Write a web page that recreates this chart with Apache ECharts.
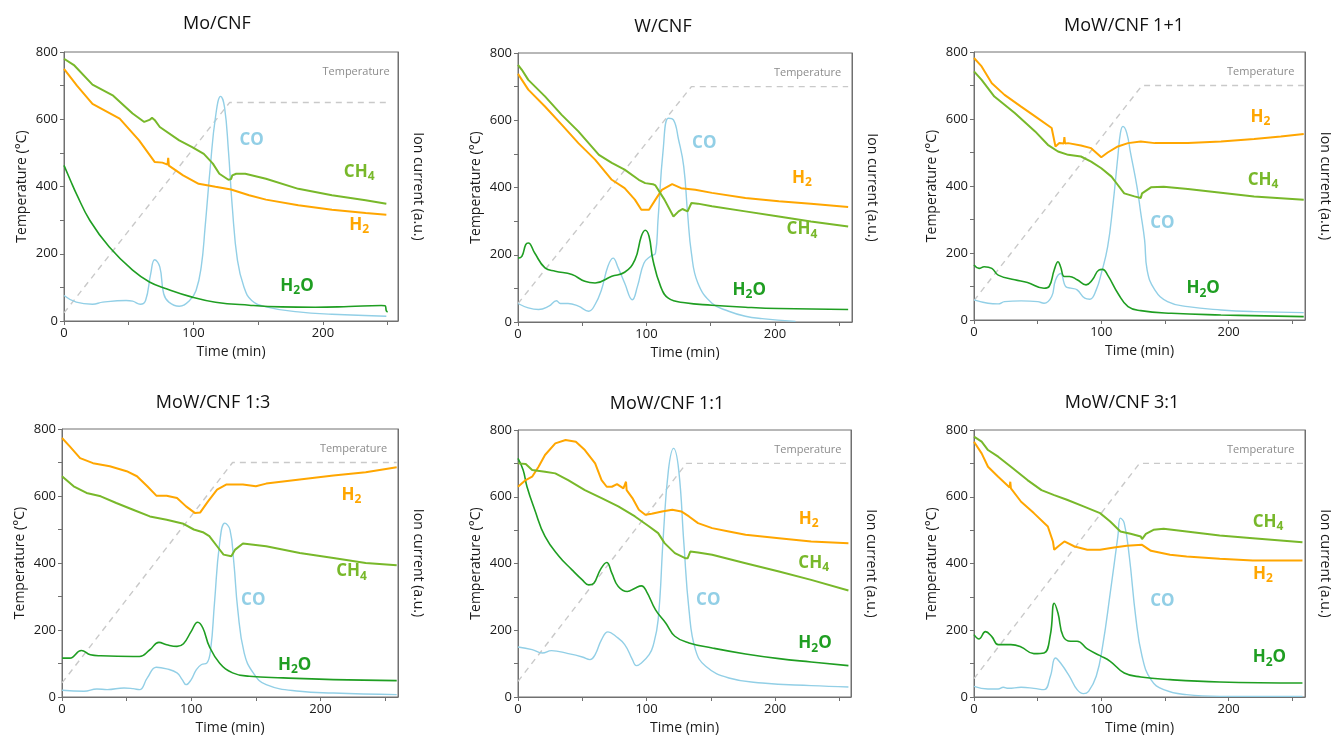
<!DOCTYPE html>
<html><head><meta charset="utf-8">
<script src="https://cdn.jsdelivr.net/npm/echarts@6/dist/echarts.min.js"></script>
<style>html,body{margin:0;padding:0;background:#fff}#c{width:1333px;height:740px}</style>
</head><body><div id="c"></div>
<script>
// ---------------- DATA (time in min, values on the 0-800 scale) ----------------
const titles = ["Mo/CNF", "W/CNF", "MoW/CNF 1+1", "MoW/CNF 1:3", "MoW/CNF 1:1", "MoW/CNF 3:1"];
const yTickLabels = [0, 200, 400, 600, 800];
const xTickLabels = [0, 100, 200];

// Mo/CNF
const moTemp = [[0,24],[128,650],[250,650]];
const moCH4 = [[0,780],[8,760],[22,703],[38,670],[53,617],[62,592],[66,598],[68,604],[70,598],[74,577],[89,537],[99,517],[108,497],[115,468],[120,438],[127,420],[129,422],[130,433],[133,438],[140,438],[156,423],[181,393],[207,374],[233,359],[249,349]];
const moH2 = [[0,750],[10,700],[22,646],[43,602],[58,537],[70,473],[76,471],[80,465],[80.5,485],[81,462],[92,433],[104,408],[117,399],[129,391],[143,374],[156,361],[181,344],[207,331],[233,321],[249,316]];
const moH2O = [[0,463],[5,418],[9.5,379],[20,299],[35,220],[53,151],[66,116],[79,96],[99,71],[117,56],[143,47],[168,42],[194,41],[220,43],[245,46],[248,45],[249,30],[250,27]];
const moCO = [[0,76],[9.5,56],[22,50],[30,56],[48,61],[53,59],[59,50],[63,61],[67,141],[70,182],[74,161],[77,81],[81,56],[89,44],[97,61],[102,91],[106,161],[109,279],[113,458],[117,606],[121,668],[124,636],[127,507],[130,339],[134,180],[139,101],[145,61],[156,42],[181,27],[207,20],[249,14]];

// W/CNF
const wTemp = [[0,55],[135,700],[257,700]];
const wCH4 = [[0,765],[3,750],[8,720],[21,671],[34,616],[47,567],[63,497],[73,473],[83,453],[94,423],[99,413],[105,410],[107,406],[114,364],[121,314],[125,329],[128,336],[132,329],[135,354],[140,352],[151,344],[177,329],[203,314],[228,299],[257,284]];
const wH2 = [[0,738],[8,691],[21,641],[34,587],[47,532],[60,483],[73,423],[83,398],[91,364],[96,334],[102,334],[107,364],[112,393],[120,410],[127,398],[138,393],[151,384],[177,369],[203,359],[228,352],[257,342]];
const wH2O = [[0,190],[3,195],[6,230],[8,235],[13,205],[21,161],[29,151],[42,141],[52,121],[60,116],[73,136],[83,148],[91,185],[96,255],[99,273],[102,255],[105,185],[111,106],[117,71],[130,57],[151,50],[177,44],[203,40],[257,37]];
const wCO = [[0,55],[8,42],[16,37],[24,47],[30,63],[33,55],[39,55],[47,47],[55,32],[60,52],[65,96],[70,166],[74,190],[78,161],[83,116],[89,66],[93,106],[98,175],[103,195],[107,205],[109,304],[113,512],[117,606],[121,601],[125,542],[129,463],[132,324],[135,205],[140,116],[151,56],[164,32],[177,17],[190,10],[216,2]];

// MoW/CNF 1+1
const mwPlusTemp = [[0,58],[132,700],[259,700]];
const mwPlusCH4 = [[0,742],[6,717],[16,667],[32,618],[48,563],[58,523],[66,503],[74,493],[84,488],[92,473],[100,453],[108,428],[113,403],[118,378],[126,369],[131,364],[132,378],[139,396],[149,398],[168,391],[194,380],[220,369],[259,359]];
const mwPlusH2 = [[0,782],[6,757],[14,707],[24,672],[37,637],[48,608],[61,573],[64,518],[67,528],[70.5,527],[71,546],[71.5,527],[74,528],[84,521],[92,513],[100,486],[105,500],[113,518],[121,528],[131,533],[142,528],[168,528],[194,533],[220,540],[241,548],[259,555]];
const mwPlusH2O = [[0,164],[4,154],[8,159],[14,154],[19,134],[32,120],[42,112],[55,95],[59,100],[63,149],[66,174],[68,159],[71,130],[75,130],[81,120],[88,105],[93,120],[98,149],[101,151],[105,134],[113,80],[121,40],[131,28],[155,20],[194,15],[259,10]];
const mwPlusCO = [[0,60],[11,50],[19,48],[24,55],[37,57],[50,55],[55,50],[61,70],[64,119],[68,139],[72,100],[76,95],[81,90],[87,65],[91,62],[96,90],[100,139],[105,219],[109,339],[113,488],[115,558],[117,578],[120,558],[123,498],[128,398],[131,319],[134,239],[136,149],[142,90],[152,55],[168,40],[194,30],[220,25],[259,22]];

// MoW/CNF 1:3
const mw13Temp = [[0,42],[132,700],[259,700]];
const mw13H2 = [[0,773],[6,748],[14,713],[24,698],[37,689],[50,674],[58,659],[66,629],[73,601],[81,601],[89,594],[96,569],[103,549],[107,551],[113,584],[120,619],[127,634],[140,634],[150,629],[158,637],[184,649],[210,661],[235,671],[259,686]];
const mw13CH4 = [[0,659],[9,629],[19,609],[30,599],[42,579],[55,559],[68,539],[81,529],[94,517],[102,500],[109,492],[114,480],[120,450],[125,425],[131,420],[134,440],[140,458],[158,450],[184,430],[210,415],[235,400],[259,393]];
const mw13H2O = [[0,116],[6,116],[15,139],[22,126],[30,123],[55,121],[60,121],[68,141],[75,163],[81,156],[89,151],[94,159],[100,196],[105,223],[109,206],[114,151],[122,101],[132,72],[145,62],[171,57],[210,52],[259,49]];
const mw13CO = [[0,20],[17,17],[27,24],[35,22],[48,27],[55,25],[60,22],[66,57],[73,89],[81,84],[89,72],[93,52],[96,37],[100,52],[104,82],[108,97],[112,101],[115,141],[118,281],[122,460],[126,519],[130,499],[133,400],[136,261],[141,131],[148,72],[158,37],[184,17],[210,12],[259,7]];

// MoW/CNF 1:1
const mw11Temp = [[0,47],[131,700],[257,700]];
const mw11H2 = [[0,630],[6,650],[11,660],[16,690],[21,725],[29,760],[37,770],[45,765],[52,740],[60,700],[65,650],[69,630],[73,630],[77,638],[82,625],[83.5,622],[84,645],[84.5,620],[89,596],[94,561],[99,546],[104,549],[112,556],[120,561],[127,556],[133,541],[140,521],[151,506],[164,496],[177,486],[203,476],[228,466],[257,461]];
const mw11CH4 = [[0,700],[6,698],[11,680],[21,675],[29,670],[39,650],[52,620],[65,596],[78,571],[91,541],[102,511],[109,491],[114,461],[122,431],[130,416],[132,416],[134,436],[140,433],[151,426],[177,401],[203,376],[228,351],[257,319]];
const mw11H2O = [[0,715],[4,680],[7,630],[13,561],[21,481],[32,421],[42,381],[50,351],[55,336],[59,341],[64,381],[69,403],[73,371],[78,331],[85,316],[91,326],[96,333],[100,316],[107,261],[115,221],[122,182],[133,162],[151,147],[177,129],[203,115],[228,105],[257,94]];
const mw11CO = [[0,150],[11,142],[19,132],[26,139],[39,130],[50,120],[56,112],[60,127],[65,172],[70,195],[76,182],[83,157],[89,112],[92,94],[96,102],[102,127],[105,152],[109,231],[113,481],[117,680],[121,745],[125,680],[129,461],[133,261],[138,142],[146,92],[164,57],[190,42],[228,34],[257,30]];

// MoW/CNF 3:1
const mw31Temp = [[0,55],[130,700],[259,700]];
const mw31CH4 = [[0,780],[6,765],[11,740],[19,720],[29,690],[42,650],[53,620],[63,605],[73,591],[86,571],[99,551],[107,526],[115,496],[123,489],[131,481],[132,473],[135,489],[141,501],[149,504],[167,496],[193,484],[219,476],[258,464]];
const mw31H2 = [[0,765],[6,730],[11,690],[19,660],[28,628],[28.5,645],[29,625],[37,585],[47,551],[58,511],[62,466],[63,441],[66,451],[71,466],[79,451],[89,441],[99,441],[110,448],[120,453],[132,456],[139,438],[154,426],[167,421],[193,414],[219,409],[258,409]];
const mw31H2O = [[0,187],[4,174],[9,196],[14,181],[19,157],[29,157],[37,150],[47,130],[55,132],[60,187],[63,281],[66,251],[70,182],[76,167],[81,167],[89,144],[99,124],[107,107],[118,72],[131,60],[154,52],[193,45],[258,42]];
const mw31CO = [[0,32],[11,24],[19,24],[23,29],[27,26],[37,29],[47,26],[55,22],[60,62],[64,117],[68,102],[75,62],[81,22],[86,10],[90,17],[96,62],[101,152],[107,311],[113,481],[115,536],[118,521],[122,421],[127,241],[132,122],[139,52],[149,22],[167,7],[193,2],[258,2]];

// ---------------- LAYOUT / STYLE ----------------
const FONT = "'Open Sans', 'DejaVu Sans', sans-serif";
const COLORS = { CH4: '#78b82a', H2: '#ffa600', H2O: '#1f9e22', CO: '#92cfe6', Temp: '#c9c9c9' };
const grids = [
  {left: 64, top: 52, width: 334, height: 269, xMax: 258},
  {left: 518, top: 53, width: 334, height: 269, xMax: 260},
  {left: 974, top: 52, width: 332, height: 268, xMax: 260},
  {left: 62, top: 429, width: 336, height: 268, xMax: 260},
  {left: 518, top: 430, width: 333, height: 267, xMax: 259},
  {left: 974, top: 430, width: 333, height: 267, xMax: 260}
];
const titlePos = [[217,24],[663,27],[1124,26],[213,403],[667,404],[1122,403]];
const labelPos = [
  {CO:[145,538], CH4:[228,443], H2:[228,286], H2O:[180,104]},
  {CO:[145,533], H2:[221,429], CH4:[221,275], H2O:[180,96]},
  {H2:[225,606], CH4:[227,418], CO:[148,290], H2O:[180,95]},
  {H2:[224,604], CH4:[224,375], CO:[148,290], H2O:[180,96]},
  {H2:[226,534], CH4:[230,402], CO:[148,289], H2O:[231,160]},
  {CH4:[231,525], H2:[227,369], CO:[148,286], H2O:[232,118]}
];
const tempLabelPos = [252, 740];

const panelData = [
  {Temp: moTemp, CH4: moCH4, H2: moH2, H2O: moH2O, CO: moCO},
  {Temp: wTemp, CH4: wCH4, H2: wH2, H2O: wH2O, CO: wCO},
  {Temp: mwPlusTemp, CH4: mwPlusCH4, H2: mwPlusH2, H2O: mwPlusH2O, CO: mwPlusCO},
  {Temp: mw13Temp, CH4: mw13CH4, H2: mw13H2, H2O: mw13H2O, CO: mw13CO},
  {Temp: mw11Temp, CH4: mw11CH4, H2: mw11H2, H2O: mw11H2O, CO: mw11CO},
  {Temp: mw31Temp, CH4: mw31CH4, H2: mw31H2, H2O: mw31H2O, CO: mw31CO}
];

const labelText = { CH4: '{m|CH}{s|4}', H2: '{m|H}{s|2}', H2O: '{m|H}{s|2}{m|O}', CO: '{m|CO}' };

function gasLabel(key, coord) {
  const c = COLORS[key];
  return {
    symbol: 'circle', symbolSize: 1, itemStyle: {color: 'rgba(0,0,0,0)'},
    data: [{coord: coord}],
    label: {
      show: true, position: 'inside', formatter: labelText[key],
      rich: {
        m: {fontSize: 17, fontWeight: 'bold', color: c, fontFamily: FONT, lineHeight: 22},
        s: {fontSize: 12, fontWeight: 'bold', color: c, fontFamily: FONT, lineHeight: 12, verticalAlign: 'bottom'}
      }
    }
  };
}

const option = { animation: false, grid: [], xAxis: [], yAxis: [], series: [], graphic: [] };
const axisColor = '#707070';

grids.forEach((g, i) => {
  option.grid.push({left: g.left, top: g.top, width: g.width, height: g.height, show: true,
    borderColor: axisColor, borderWidth: 1, backgroundColor: 'transparent', containLabel: false});
  option.xAxis.push({
    type: 'value', gridIndex: i, min: 0, max: g.xMax, interval: 50,
    name: 'Time (min)', nameLocation: 'middle', nameGap: 24,
    nameTextStyle: {fontSize: 14, color: '#1a1a1a', fontFamily: FONT},
    axisLine: {show: true, lineStyle: {color: axisColor}},
    axisTick: {show: true, length: 4, lineStyle: {color: axisColor}},
    splitLine: {show: false},
    axisLabel: {fontSize: 13, color: '#1a1a1a', fontFamily: FONT, margin: 6, showMaxLabel: false,
      formatter: v => xTickLabels.includes(v) ? String(v) : ''}
  });
  option.yAxis.push({
    type: 'value', gridIndex: i, min: 0, max: 800, interval: 100, position: 'left',
    name: 'Temperature (°C)', nameLocation: 'middle', nameGap: 35,
    nameTextStyle: {fontSize: 14, color: '#1a1a1a', fontFamily: FONT},
    axisLine: {show: true, lineStyle: {color: axisColor}},
    axisTick: {show: true, length: 4, lineStyle: {color: axisColor}},
    splitLine: {show: false},
    axisLabel: {fontSize: 13, color: '#1a1a1a', fontFamily: FONT, margin: 6,
      formatter: v => yTickLabels.includes(v) ? String(v) : ''}
  });
  option.yAxis.push({
    type: 'value', gridIndex: i, min: 0, max: 800, position: 'right',
    name: 'Ion current (a.u.)', nameLocation: 'middle', nameGap: 13, nameRotate: -90,
    nameTextStyle: {fontSize: 14, color: '#1a1a1a', fontFamily: FONT},
    axisLine: {show: true, lineStyle: {color: axisColor}},
    axisTick: {show: false}, axisLabel: {show: false}, splitLine: {show: false}
  });
  const d = panelData[i];
  const lp = labelPos[i];
  option.series.push({
    type: 'line', name: 'Temperature', xAxisIndex: i, yAxisIndex: 2 * i, data: d.Temp,
    showSymbol: false, lineStyle: {color: COLORS.Temp, width: 1.4, type: [6, 5]}, z: 1,
    markPoint: {symbol: 'circle', symbolSize: 1, itemStyle: {color: 'rgba(0,0,0,0)'},
      data: [{coord: tempLabelPos}],
      label: {show: true, position: 'left', distance: 0, formatter: 'Temperature',
        fontSize: 11, color: '#8c8c8c', fontFamily: FONT}}
  });
  [['CO', 1.4, 0.45], ['H2O', 1.6, 0.45], ['H2', 2, 0], ['CH4', 2, 0]].forEach(([k, w, sm]) => {
    option.series.push({
      type: 'line', name: k, xAxisIndex: i, yAxisIndex: 2 * i + 1, data: d[k],
      showSymbol: false, smooth: sm,
      lineStyle: {color: COLORS[k], width: w}, itemStyle: {color: COLORS[k]}, z: 2,
      markPoint: gasLabel(k, lp[k])
    });
  });
  option.graphic.push({type: 'text', x: titlePos[i][0], y: titlePos[i][1],
    style: {text: titles[i], fontSize: 18, fontFamily: FONT, fill: '#111', align: 'center', verticalAlign: 'middle'}});
});

const chart = echarts.init(document.getElementById('c'), null, {renderer: 'canvas'});
chart.setOption(option);
</script>
</body></html>
